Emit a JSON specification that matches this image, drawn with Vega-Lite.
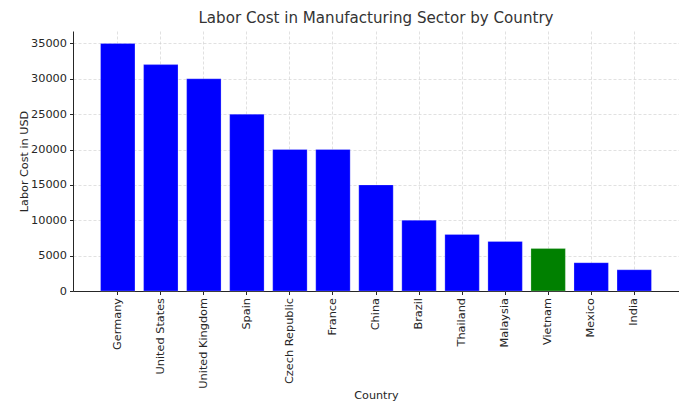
{
  "$schema": "https://vega.github.io/schema/vega-lite/v6.json",
  "width": 606,
  "height": 260,
  "autosize": "none",
  "padding": {"left": 73, "top": 31, "right": 0, "bottom": 112},
  "background": "white",
  "title": {
    "text": "Labor Cost in Manufacturing Sector by Country",
    "font": "DejaVu Sans",
    "fontSize": 15.1,
    "fontWeight": "normal",
    "color": "#333333",
    "offset": 5
  },
  "data": {
    "values": [
      {"Country": "Germany", "Cost": 35000, "Highlight": "no"},
      {"Country": "United States", "Cost": 32000, "Highlight": "no"},
      {"Country": "United Kingdom", "Cost": 30000, "Highlight": "no"},
      {"Country": "Spain", "Cost": 25000, "Highlight": "no"},
      {"Country": "Czech Republic", "Cost": 20000, "Highlight": "no"},
      {"Country": "France", "Cost": 20000, "Highlight": "no"},
      {"Country": "China", "Cost": 15000, "Highlight": "no"},
      {"Country": "Brazil", "Cost": 10000, "Highlight": "no"},
      {"Country": "Thailand", "Cost": 8000, "Highlight": "no"},
      {"Country": "Malaysia", "Cost": 7000, "Highlight": "no"},
      {"Country": "Vietnam", "Cost": 6000, "Highlight": "yes"},
      {"Country": "Mexico", "Cost": 4000, "Highlight": "no"},
      {"Country": "India", "Cost": 3000, "Highlight": "no"}
    ]
  },
  "config": {
    "view": {"stroke": null},
    "axis": {
      "labelFont": "DejaVu Sans",
      "titleFont": "DejaVu Sans",
      "labelFontSize": 11.3,
      "titleFontSize": 11.2,
      "titleFontWeight": "normal",
      "labelColor": "#262626",
      "titleColor": "#262626",
      "domainColor": "#262626",
      "tickColor": "#262626",
      "tickSize": 3.5,
      "gridColor": "#cccccc",
      "gridDash": [3, 2],
      "gridWidth": 0.6
    }
  },
  "mark": {"type": "bar", "stroke": "#ffffff", "strokeOpacity": 0.3, "strokeWidth": 0.8},
  "encoding": {
    "x": {
      "field": "Country",
      "type": "nominal",
      "sort": null,
      "scale": {"paddingInner": 0.2, "paddingOuter": 0.64},
      "axis": {
        "title": "Country",
        "labelAngle": -90,
        "labelPadding": 3,
        "titleY": 104,
        "titleBaseline": "middle",
        "grid": true,
        "gridDash": [3, 2],
        "domainWidth": 1
      }
    },
    "y": {
      "field": "Cost",
      "type": "quantitative",
      "scale": {"domain": [0, 36750], "nice": false},
      "axis": {
        "title": "Labor Cost in USD",
        "values": [0, 5000, 10000, 15000, 20000, 25000, 30000, 35000],
        "format": "d",
        "labelPadding": 3,
        "titleX": -49,
        "titleBaseline": "middle",
        "grid": true
      }
    },
    "color": {
      "field": "Highlight",
      "type": "nominal",
      "scale": {"domain": ["no", "yes"], "range": ["#0000ff", "#008000"]},
      "legend": null
    }
  }
}
